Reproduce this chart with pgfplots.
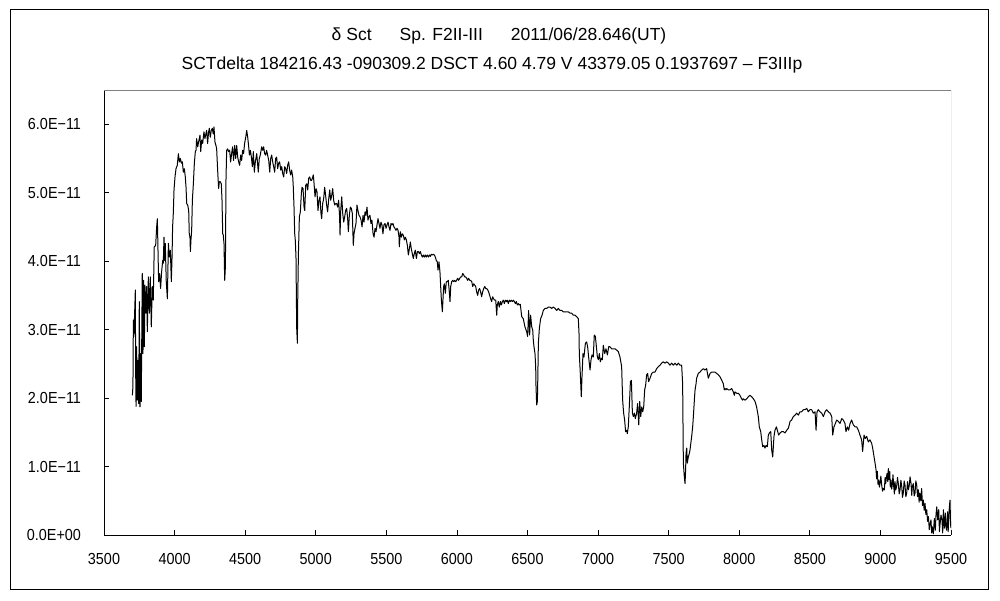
\documentclass[border=0pt]{standalone}
\usepackage{fontspec}
\setmainfont{Liberation Sans}[FakeStretch=0.9]
\newfontfamily\titlefont{Liberation Sans}
\usepackage{pgfplots}
\pgfplotsset{compat=1.18}
% flux values are in units of 1E-11
\pgfplotstableread{
lambda flux
3701 2.04
3705 2.17
3708 3.14
3712 2.90
3717 3.24
3722 3.58
3724 2.46
3727 1.88
3731 2.75
3736 1.97
3741 2.55
3746 1.92
3750 3.41
3755 1.87
3760 2.65
3764 1.95
3771 3.82
3776 2.65
3781 3.72
3786 2.75
3790 3.65
3797 3.24
3802 3.63
3807 2.97
3814 3.77
3821 3.24
3828 3.77
3835 3.04
3842 3.63
3849 3.43
3856 4.21
3866 4.23
3873 4.50
3878 4.62
3882 4.21
3887 3.70
3894 3.82
3901 3.60
3908 3.84
3916 4.01
3920 3.97
3925 4.35
3930 4.01
3934 4.26
3941 3.70
3949 3.45
3956 4.26
3963 4.06
3970 4.16
3977 3.70
3982 4.06
3986 4.50
3991 4.70
3996 5.04
4003 5.23
4010 5.35
4019 5.40
4027 5.57
4034 5.45
4041 5.50
4048 5.43
4055 5.45
4062 5.30
4069 5.35
4076 5.23
4081 5.08
4086 4.84
4093 4.82
4100 4.74
4104 4.40
4109 4.35
4112 4.14
4116 4.31
4121 4.45
4126 4.89
4133 5.13
4140 5.43
4147 5.60
4152 5.62
4156 5.79
4164 5.67
4168 5.72
4175 5.79
4180 5.84
4185 5.60
4192 5.77
4199 5.72
4208 5.89
4215 5.79
4222 5.86
4227 5.91
4234 5.72
4241 5.89
4246 5.94
4253 5.81
4260 5.91
4267 5.94
4274 5.86
4279 5.96
4286 5.74
4293 5.69
4298 5.64
4305 5.33
4312 5.06
4317 5.16
4324 5.16
4331 5.13
4336 4.89
4341 4.40
4345 4.38
4350 4.26
4355 3.72
4360 3.92
4364 5.18
4369 5.62
4376 5.64
4383 5.60
4390 5.62
4397 5.45
4404 5.57
4411 5.67
4418 5.47
4426 5.69
4433 5.50
4440 5.69
4447 5.52
4454 5.45
4461 5.40
4468 5.55
4475 5.47
4482 5.62
4489 5.57
4496 5.72
4504 5.81
4511 5.91
4518 5.81
4525 5.67
4530 5.55
4537 5.62
4544 5.52
4551 5.38
4558 5.60
4565 5.30
4572 5.45
4582 5.57
4589 5.40
4593 5.30
4600 5.50
4607 5.55
4617 5.67
4624 5.62
4631 5.67
4638 5.57
4645 5.55
4652 5.62
4659 5.55
4667 5.47
4674 5.30
4681 5.50
4688 5.55
4695 5.45
4702 5.38
4709 5.30
4716 5.50
4723 5.52
4730 5.35
4737 5.43
4744 5.45
4752 5.33
4759 5.38
4766 5.28
4773 5.23
4780 5.38
4787 5.35
4794 5.28
4801 5.40
4808 5.45
4815 5.33
4822 5.26
4829 5.33
4837 5.23
4841 5.08
4846 4.79
4851 4.40
4855 4.31
4860 4.06
4865 3.02
4870 2.80
4872 3.38
4877 4.09
4884 4.65
4891 4.72
4898 4.99
4903 5.08
4910 5.06
4917 4.79
4922 4.74
4929 5.11
4936 5.13
4943 5.04
4950 5.21
4957 5.23
4964 5.18
4971 5.18
4983 5.26
4990 5.08
4995 4.94
5002 5.06
5009 5.01
5016 4.74
5023 4.89
5030 4.94
5037 4.70
5042 4.62
5049 4.84
5056 4.91
5063 5.08
5070 4.96
5077 4.82
5084 4.72
5092 4.91
5099 5.04
5106 4.89
5113 4.96
5120 5.06
5127 4.89
5134 4.82
5141 4.84
5148 4.84
5155 4.79
5162 4.89
5169 4.65
5172 4.38
5177 4.74
5184 4.94
5191 4.70
5198 4.57
5205 4.65
5212 4.74
5219 4.77
5226 4.62
5231 4.43
5238 4.67
5245 4.79
5252 4.77
5259 4.70
5266 4.23
5271 4.40
5278 4.48
5285 4.55
5292 4.82
5299 4.74
5306 4.67
5313 4.65
5321 4.60
5328 4.50
5335 4.67
5342 4.57
5349 4.72
5356 4.67
5363 4.79
5370 4.60
5377 4.65
5384 4.67
5391 4.55
5398 4.60
5406 4.40
5413 4.35
5420 4.48
5427 4.43
5434 4.53
5441 4.62
5448 4.55
5455 4.48
5462 4.57
5469 4.53
5476 4.40
5483 4.53
5491 4.55
5498 4.48
5505 4.53
5512 4.57
5519 4.50
5526 4.45
5533 4.55
5540 4.53
5547 4.55
5554 4.50
5561 4.48
5568 4.45
5576 4.48
5583 4.45
5590 4.35
5592 4.21
5599 4.43
5606 4.35
5613 4.40
5620 4.38
5628 4.31
5635 4.35
5642 4.31
5649 4.23
5656 4.09
5663 4.18
5670 4.28
5677 4.18
5684 4.11
5691 4.04
5698 4.11
5705 4.16
5713 4.04
5720 4.14
5727 4.14
5734 4.11
5741 4.14
5748 4.09
5755 4.06
5762 4.09
5769 4.06
5776 4.09
5783 4.06
5790 4.09
5798 4.06
5805 4.09
5812 4.07
5819 4.10
5826 4.09
5833 4.10
5840 4.09
5847 4.06
5854 4.01
5861 3.99
5866 3.87
5873 3.99
5880 3.84
5885 3.63
5890 3.43
5897 3.26
5901 3.43
5906 3.63
5911 3.67
5918 3.53
5925 3.70
5932 3.70
5939 3.72
5946 3.55
5951 3.41
5956 3.63
5963 3.70
5970 3.72
5977 3.70
5984 3.72
5991 3.70
5998 3.72
6005 3.75
6012 3.72
6020 3.75
6027 3.77
6034 3.77
6041 3.82
6048 3.80
6055 3.77
6062 3.77
6069 3.75
6076 3.72
6083 3.75
6090 3.72
6097 3.72
6105 3.70
6112 3.63
6119 3.67
6126 3.65
6133 3.63
6140 3.55
6147 3.50
6154 3.58
6161 3.60
6168 3.55
6175 3.48
6182 3.55
6190 3.60
6197 3.63
6204 3.60
6211 3.60
6218 3.58
6225 3.55
6232 3.50
6239 3.45
6246 3.41
6253 3.48
6260 3.45
6267 3.43
6275 3.43
6282 3.21
6286 3.36
6293 3.41
6300 3.33
6308 3.41
6315 3.36
6322 3.41
6329 3.43
6336 3.38
6343 3.43
6350 3.41
6357 3.43
6364 3.38
6371 3.43
6378 3.41
6385 3.43
6393 3.41
6400 3.43
6407 3.41
6414 3.38
6421 3.41
6428 3.36
6435 3.38
6442 3.36
6449 3.37
6459 3.19
6470 3.16
6482 3.04
6494 2.97
6501 2.90
6508 3.28
6515 2.92
6522 3.21
6530 3.04
6537 2.99
6541 2.85
6546 2.75
6553 2.65
6558 2.46
6560 2.19
6565 1.90
6570 1.95
6572 2.17
6577 2.80
6584 3.02
6593 3.16
6603 3.21
6612 3.28
6624 3.31
6636 3.31
6648 3.33
6659 3.33
6671 3.31
6683 3.33
6695 3.31
6707 3.28
6718 3.31
6730 3.28
6742 3.28
6754 3.26
6766 3.26
6777 3.26
6789 3.26
6801 3.24
6813 3.24
6825 3.21
6837 3.21
6848 3.19
6860 3.16
6865 2.94
6867 2.65
6874 2.36
6881 2.02
6886 2.31
6893 2.65
6900 2.60
6910 2.80
6919 2.82
6926 2.75
6933 2.60
6943 2.41
6950 2.56
6957 2.63
6966 2.60
6973 2.92
6981 2.90
6988 2.75
6995 2.60
7002 2.56
7009 2.65
7016 2.53
7023 2.58
7030 2.56
7037 2.77
7047 2.65
7056 2.72
7066 2.63
7075 2.75
7084 2.75
7096 2.72
7108 2.72
7120 2.72
7132 2.70
7143 2.68
7155 2.60
7167 2.46
7174 1.97
7181 1.78
7188 1.68
7195 1.51
7203 1.53
7207 1.48
7214 1.58
7221 1.87
7229 2.24
7236 2.26
7243 1.78
7250 1.73
7257 1.78
7264 1.70
7273 1.78
7280 1.92
7288 1.61
7295 1.95
7302 1.73
7309 1.87
7316 1.80
7323 1.87
7330 2.12
7337 2.19
7344 2.34
7351 2.36
7358 2.24
7368 2.29
7380 2.36
7391 2.38
7403 2.38
7415 2.43
7427 2.46
7439 2.48
7450 2.51
7462 2.53
7474 2.51
7486 2.53
7498 2.51
7509 2.48
7521 2.51
7533 2.48
7545 2.51
7557 2.48
7569 2.51
7580 2.48
7592 2.48
7599 2.21
7604 1.05
7611 0.85
7616 0.75
7620 0.95
7623 1.19
7628 1.27
7632 1.05
7639 1.14
7646 1.19
7651 1.24
7663 1.44
7670 1.58
7675 1.73
7682 1.97
7687 2.12
7694 2.21
7698 2.29
7710 2.36
7722 2.38
7734 2.41
7746 2.43
7757 2.41
7769 2.43
7781 2.29
7793 2.36
7805 2.38
7816 2.38
7828 2.38
7840 2.36
7852 2.34
7864 2.31
7876 2.26
7887 2.21
7894 2.12
7899 2.14
7906 2.12
7911 2.14
7923 2.12
7935 2.12
7946 2.14
7958 2.09
7965 2.04
7970 2.09
7982 2.07
7994 2.07
8005 2.04
8017 1.99
8024 1.97
8029 1.99
8041 1.97
8053 1.99
8064 2.02
8076 2.04
8088 2.02
8100 1.99
8112 1.95
8123 1.87
8135 1.73
8142 1.58
8152 1.51
8159 1.39
8166 1.29
8175 1.31
8182 1.27
8190 1.31
8199 1.29
8206 1.46
8213 1.49
8223 1.51
8230 1.24
8237 1.14
8246 1.44
8253 1.53
8263 1.58
8270 1.53
8279 1.46
8289 1.49
8301 1.51
8312 1.51
8324 1.49
8336 1.53
8348 1.56
8360 1.66
8371 1.68
8383 1.73
8395 1.75
8407 1.78
8419 1.75
8430 1.80
8442 1.80
8454 1.83
8466 1.83
8478 1.85
8489 1.80
8501 1.83
8513 1.83
8525 1.78
8537 1.80
8544 1.53
8551 1.80
8560 1.83
8572 1.80
8584 1.78
8596 1.73
8608 1.80
8619 1.83
8631 1.80
8643 1.78
8655 1.73
8662 1.46
8671 1.58
8681 1.63
8690 1.68
8702 1.66
8714 1.63
8726 1.70
8737 1.68
8749 1.63
8756 1.51
8766 1.58
8775 1.53
8785 1.63
8796 1.68
8808 1.61
8820 1.58
8832 1.58
8844 1.53
8855 1.46
8867 1.39
8874 1.22
8884 1.46
8893 1.41
8903 1.44
8914 1.36
8926 1.39
8938 1.34
8945 1.27
8955 1.14
8962 1.05
8969 0.95
8973 0.82
8978 0.93
8983 0.74
8988 0.80
8993 0.70
8997 0.75
9003 0.86
9009 0.73
9015 0.64
9021 0.68
9028 0.66
9033 0.84
9037 0.75
9042 0.83
9047 0.90
9052 0.78
9056 0.97
9061 0.81
9066 0.93
9070 0.70
9075 0.80
9080 0.67
9085 0.75
9089 0.88
9094 0.71
9099 0.60
9103 0.78
9109 0.66
9115 0.71
9121 0.84
9127 0.75
9133 0.60
9139 0.66
9145 0.80
9151 0.71
9156 0.55
9162 0.61
9168 0.79
9174 0.73
9180 0.56
9186 0.61
9192 0.78
9198 0.66
9204 0.72
9210 0.85
9217 0.75
9222 0.58
9226 0.71
9233 0.75
9239 0.57
9245 0.61
9251 0.79
9257 0.73
9263 0.56
9269 0.66
9274 0.48
9280 0.61
9286 0.50
9292 0.68
9298 0.43
9304 0.51
9310 0.36
9316 0.46
9322 0.30
9328 0.37
9334 0.20
9340 0.27
9346 0.08
9351 0.15
9358 0.22
9363 0.03
9368 0.12
9375 0.02
9382 0.24
9389 0.07
9394 0.30
9399 0.41
9406 0.22
9413 0.37
9418 0.05
9422 0.15
9429 0.29
9436 0.22
9441 0.03
9446 0.37
9453 0.10
9460 0.32
9464 0.12
9469 0.07
9476 0.34
9480 0.05
9484 0.24
9488 0.40
9493 0.51
9497 0.15
9500 0.10
}\spectrum
\begin{document}
\begin{tikzpicture}[x=1pt,y=1pt]
\path[use as bounding box] (0,0) rectangle (1000,600);
\draw[line width=1pt] (10,11) rectangle (988,590);
\node[font=\titlefont\fontsize{17.5}{21}\selectfont] at (499,564)
  {δ Sct\hspace{1.6em}Sp. F2II-III\hspace{1.6em}2011/06/28.646(UT)};
\node[font=\titlefont\fontsize{17.5}{21}\selectfont] at (492,535)
  {SCTdelta 184216.43 -090309.2 DSCT 4.60 4.79 V 43379.05 0.1937697 – F3IIIp};
\begin{axis}[
  at={(104pt,65pt)}, anchor=south west,
  scale only axis, width=847pt, height=445pt,
  xmin=3500, xmax=9500, ymin=0, ymax=6.5,
  axis lines*=left,
  axis line style={black, line width=1pt},
  tick align=inside,
  major tick length=5pt,
  tick style={black, line width=0.8pt},
  xtick={3500,4000,4500,5000,5500,6000,6500,7000,7500,8000,8500,9000,9500},
  xticklabels={3500,4000,4500,5000,5500,6000,6500,7000,7500,8000,8500,9000,9500},
  ytick={0,1,2,3,4,5,6},
  yticklabels={0.0E+00,1.0E−11,2.0E−11,3.0E−11,4.0E−11,5.0E−11,6.0E−11},
  ticklabel style={font=\fontsize{16}{19}\selectfont},
  xticklabel style={yshift=-15pt},
  yticklabel style={xshift=-19.5pt},
  clip=true,
]
\draw[color={rgb,255:red,128;green,128;blue,128}, line width=1pt]
  (rel axis cs:0,1) -- (rel axis cs:1,1) -- (rel axis cs:1,0);
\addplot[black, line width=1pt, line join=round, mark=none] table[x=lambda, y=flux] {\spectrum};
\end{axis}
\end{tikzpicture}
\end{document}
